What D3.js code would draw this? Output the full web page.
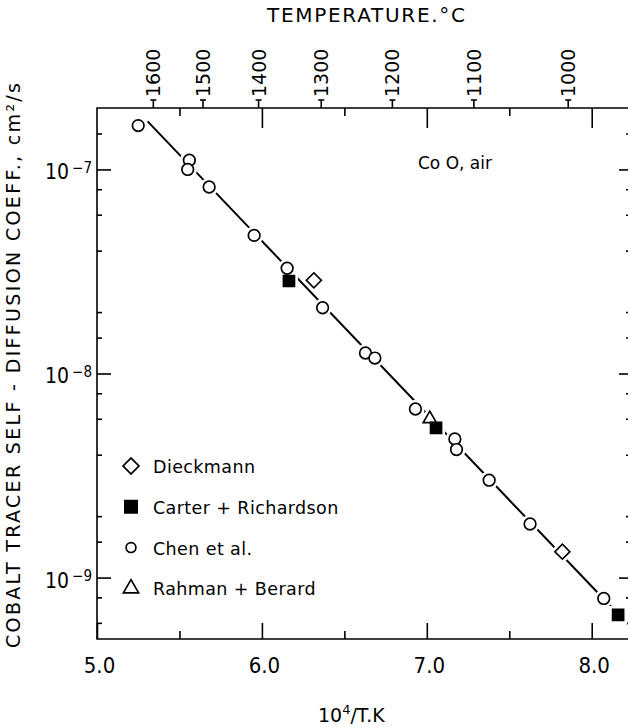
<!DOCTYPE html>
<html>
<head>
<meta charset="utf-8">
<script src="https://cdn.jsdelivr.net/npm/d3@7"></script>
<style>
  body { margin: 0; background: #fff; }
  text { font-family: "DejaVu Sans", sans-serif; fill: #000; }
  .tick text { font-family: "Liberation Sans Narrow", "DejaVu Sans Condensed", sans-serif; }
</style>
</head>
<body>
<div id="chart"></div>
<script>
// Chen et al.
var chenX = [5.25, 5.56, 5.55, 5.68, 5.953, 6.153, 6.368, 6.628, 6.685, 6.931, 7.17, 7.18, 7.378, 7.626, 8.073];
var chenD = [1.64e-7, 1.11e-7, 1.0e-7, 8.2e-8, 4.75e-8, 3.28e-8, 2.1e-8, 1.26e-8, 1.19e-8, 6.7e-9, 4.78e-9, 4.24e-9, 3.0e-9, 1.83e-9, 7.9e-10];
// Carter + Richardson
var carterX = [6.164, 7.056, 8.16];
var carterD = [2.84e-8, 5.42e-9, 6.56e-10];
// Dieckmann
var dieckX = [6.315, 7.822];
var dieckD = [2.86e-8, 1.34e-9];
// Rahman + Berard
var rahmanX = [7.018];
var rahmanD = [6.0e-9];
// fitted line
var fitX = [5.307, 8.17];
var fitD = [1.72e-7, 6.5e-10];

var xTicksMajor = [5.0, 6.0, 7.0, 8.0];
var xTicksMinor = [5.5, 6.5, 7.5];
var tempTicks = [1600, 1500, 1400, 1300, 1200, 1100, 1000];
var yTicksMajor = [1e-7, 1e-8, 1e-9];
var yExponents = [-7, -8, -9];
var yTicksMinor = [1.5e-7, 8e-8, 6e-8, 4e-8, 2e-8, 1.5e-8, 8e-9, 6e-9, 4e-9, 2e-9, 1.5e-9, 8e-10, 6e-10];
var legendNames = ["Dieckmann", "Carter + Richardson", "Chen et al.", "Rahman + Berard"];

w = 629;
h = 727;
var marges = {left: 97, right: 1, top: 108, bottom: 88};
var graf_w = w - marges.left - marges.right;
var graf_h = h - marges.top - marges.bottom;

var svg = d3.select("#chart")
  .append("svg")
    .attr("width", w)
    .attr("height", h)
  .append("g")
    .attr("transform", "translate(" + marges.left + "," + marges.top + ")");

var x = d3.scaleLinear().domain([5.0, 8.22]).range([0, graf_w]);
var y = d3.scaleLog().domain([5e-10, 2e-7]).range([graf_h, 0]);

// <-- FRAME -------------
svg.append("path")
  .attr("d", "M" + graf_w + ",0H0V" + graf_h + "H" + graf_w)
  .attr("fill", "none")
  .attr("stroke", "#000")
  .attr("stroke-width", 1.6);

function styleAxis(g) {
  g.select(".domain").remove();
  g.selectAll(".tick line").attr("stroke", "#000").attr("stroke-width", 1.6);
}

// bottom x axis (ticks inward)
var xb = svg.append("g")
  .attr("transform", "translate(0," + graf_h + ")")
  .call(d3.axisBottom(x).tickValues(xTicksMajor).tickSizeInner(-16).tickPadding(12)
    .tickFormat(d3.format(".1f")));
styleAxis(xb);
xb.selectAll(".tick text").attr("font-size", 22).attr("dy", "0.71em").attr("transform", "translate(2,6)");
styleAxis(svg.append("g")
  .attr("transform", "translate(0," + graf_h + ")")
  .call(d3.axisBottom(x).tickValues(xTicksMinor).tickSizeInner(-8).tickFormat("")));

// top axis inner ticks
styleAxis(svg.append("g").call(d3.axisTop(x).tickValues(xTicksMajor.slice(1)).tickSizeInner(-20).tickFormat("")));
styleAxis(svg.append("g").call(d3.axisTop(x).tickValues(xTicksMinor).tickSizeInner(-8).tickFormat("")));

// top temperature axis
var tg = svg.append("g")
  .call(d3.axisTop(x).tickValues(tempTicks.map(function(t) { return 1e4 / (t + 273.15); }))
    .tickSizeInner(8).tickFormat(""));
styleAxis(tg);
tg.selectAll(".tick").append("line")
  .attr("x1", -3).attr("x2", 3).attr("y1", -8).attr("y2", -8)
  .attr("stroke", "#000").attr("stroke-width", 1.6);
tg.selectAll(".tick").append("text")
  .data(tempTicks)
  .attr("transform", "translate(7,-11) rotate(-90)")
  .attr("text-anchor", "start")
  .attr("font-size", 19)
  .style("font-family", "DejaVu Sans, sans-serif")
  .text(function(d) { return d; });

// left y axis
var yl = svg.append("g")
  .call(d3.axisLeft(y).tickValues(yTicksMajor).tickSizeInner(-14).tickPadding(5).tickFormat(""));
styleAxis(yl);
yl.selectAll(".tick").append("text")
  .data(yExponents)
  .attr("x", -5)
  .attr("dy", "0.45em")
  .attr("text-anchor", "end")
  .attr("font-size", 21)
  .each(function(d) {
    var t = d3.select(this);
    t.append("tspan").text("10");
    t.append("tspan").attr("dy", "-0.45em").attr("dx", 3).attr("font-size", 15).text("\u2212" + Math.abs(d));
  });
styleAxis(svg.append("g").call(d3.axisLeft(y).tickValues(yTicksMinor).tickSizeInner(-5).tickFormat("")));

// right y axis (inside)
styleAxis(svg.append("g").attr("transform", "translate(" + graf_w + ",0)")
  .call(d3.axisRight(y).tickValues(yTicksMajor).tickSizeInner(-9).tickFormat("")));
styleAxis(svg.append("g").attr("transform", "translate(" + graf_w + ",0)")
  .call(d3.axisRight(y).tickValues(yTicksMinor).tickSizeInner(-2).tickFormat("")));
// -- AXES ------------->

// fitted line
svg.append("line")
  .attr("x1", x(fitX[0])).attr("y1", y(fitD[0]))
  .attr("x2", x(fitX[1])).attr("y2", y(fitD[1]))
  .attr("stroke", "#000").attr("stroke-width", 2);

// <-- MARKERS -------------
var symCircle = d3.symbol().type(d3.symbolCircle).size(106);
var symSquare = d3.symbol().type(d3.symbolSquare).size(121);
var symDiamond = d3.symbol().type(d3.symbolSquare).size(112);
var symTriangle = d3.symbol().type(d3.symbolTriangle).size(75);

function zip(xs, ds) { return xs.map(function(v, i) { return [v, ds[i]]; }); }

var series = [
  {pts: zip(chenX, chenD), sym: symCircle, filled: false, rot: 0},
  {pts: zip(dieckX, dieckD), sym: symDiamond, filled: false, rot: 45},
  {pts: zip(rahmanX, rahmanD), sym: symTriangle, filled: false, rot: 0},
  {pts: zip(carterX, carterD), sym: symSquare, filled: true, rot: 0}
];

function place(s) {
  return function(d) { return "translate(" + x(d[0]) + "," + y(d[1]) + ") rotate(" + s.rot + ")"; };
}

// white halos first, they cut the line near each marker
series.forEach(function(s) {
  svg.append("g").selectAll("path").data(s.pts).enter().append("path")
    .attr("d", s.sym)
    .attr("transform", place(s))
    .attr("fill", "#fff").attr("stroke", "#fff").attr("stroke-width", 7);
});
series.forEach(function(s) {
  svg.append("g").selectAll("path").data(s.pts).enter().append("path")
    .attr("d", s.sym)
    .attr("transform", place(s))
    .attr("fill", s.filled ? "#000" : "#fff").attr("stroke", "#000").attr("stroke-width", 1.7);
});
// -- MARKERS ------------->

// <-- LEGEND -------------
var legSyms = [d3.symbol().type(d3.symbolSquare).size(128), d3.symbol().type(d3.symbolSquare).size(150),
               d3.symbol().type(d3.symbolCircle).size(75), d3.symbol().type(d3.symbolTriangle).size(100)];
var legRot = [45, 0, 0, 0];
var legFill = ["#fff", "#000", "#fff", "#fff"];
legendNames.forEach(function(d, i) {
  var ly = 358 + i * 40.8;
  svg.append("path")
    .attr("d", legSyms[i])
    .attr("transform", "translate(34," + ly + ") rotate(" + legRot[i] + ")")
    .attr("fill", legFill[i]).attr("stroke", "#000").attr("stroke-width", 1.7);
  svg.append("text")
    .attr("x", 56)
    .attr("y", ly + 7)
    .attr("font-size", 17.5)
    .attr("letter-spacing", 0.4)
    .text(d);
});

svg.append("text")
  .attr("x", 321).attr("y", 61)
  .attr("font-size", 17)
  .text("Co O, air");
// -- LEGEND ------------->

// <-- TITLES -------------
var root = d3.select("#chart svg");
root.append("text")
  .attr("x", 267).attr("y", 22)
  .attr("font-size", 20)
  .attr("textLength", 198).attr("lengthAdjust", "spacing")
  .text("TEMPERATURE.\u00B0C");

root.append("text")
  .attr("transform", "translate(20,648) rotate(-90)")
  .attr("font-size", 19)
  .attr("textLength", 565).attr("lengthAdjust", "spacing")
  .text("COBALT TRACER SELF - DIFFUSION COEFF., cm\u00B2/s");

var xl = root.append("text")
  .attr("x", 318).attr("y", 722)
  .attr("font-size", 19);
xl.append("tspan").text("10");
xl.append("tspan").attr("dy", -8).attr("font-size", 13).text("4");
xl.append("tspan").attr("dy", 8).text("/T.K");
// -- TITLES ------------->
</script>
</body>
</html>
